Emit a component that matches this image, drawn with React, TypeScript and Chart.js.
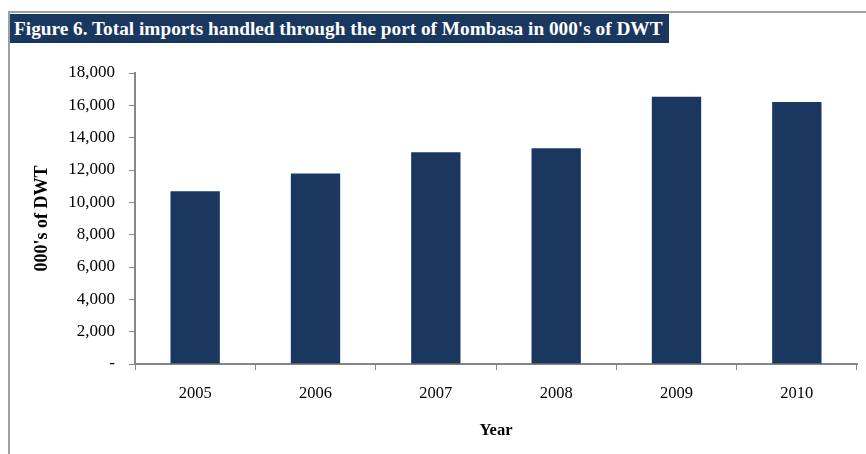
import React, { useEffect, useRef } from "react";
import { Chart, registerables } from "chart.js";

Chart.register(...registerables);

const TITLE = "Figure 6. Total imports handled through the port of Mombasa in 000's of DWT";
const years: string[] = ["2005", "2006", "2007", "2008", "2009", "2010"];
const imports: number[] = [10680, 11790, 13100, 13340, 16530, 16200];
const yTickValues: number[] = [0, 2000, 4000, 6000, 8000, 10000, 12000, 14000, 16000, 18000];
const yAxisTitle = "000's of DWT";
const xAxisTitle = "Year";

const NAVY = "#1a3760";
const AXIS = "#868686";
const FONT = "'Liberation Serif', 'DejaVu Serif', serif";

export default function App() {
  const ref = useRef<HTMLCanvasElement | null>(null);

  useEffect(() => {
    const prevMargin = document.body.style.margin;
    document.body.style.margin = "0";
    const canvas = ref.current;
    if (!canvas) return;
    const chart = new Chart(canvas, {
      type: "bar",
      data: {
        labels: years,
        datasets: [
          {
            label: "Imports",
            data: imports,
            backgroundColor: NAVY,
            borderWidth: 0,
            barPercentage: 0.41,
            categoryPercentage: 1,
          },
        ],
      },
      options: {
        animation: false,
        responsive: false,
        maintainAspectRatio: false,
        layout: { padding: { left: 0, right: 9, top: 73, bottom: 0 } },
        plugins: {
          legend: { display: false },
          tooltip: { enabled: false },
          title: { display: false },
        },
        scales: {
          x: {
            afterFit: (s: any) => {
              s.height = 90;
            },
            grid: {
              drawOnChartArea: false,
              drawTicks: true,
              tickLength: 6,
              color: AXIS,
              lineWidth: 1,
              offset: true,
            },
            border: { color: AXIS, width: 2 },
            ticks: {
              color: "#000",
              padding: 14,
              font: { family: FONT, size: 16.5 },
            },
            title: {
              display: true,
              text: xAxisTitle,
              color: "#000",
              font: { family: FONT, size: 16.5, weight: "bold" },
              padding: { top: 0, bottom: 13 },
            },
          },
          y: {
            min: 0,
            max: 18000,
            afterFit: (s: any) => {
              s.width = 135;
            },
            afterBuildTicks: (s: any) => {
              s.ticks = yTickValues.map((v) => ({ value: v }));
            },
            grid: {
              drawOnChartArea: false,
              drawTicks: true,
              tickLength: 6,
              color: AXIS,
            },
            border: { color: AXIS, width: 2 },
            ticks: {
              color: "#000",
              padding: 14,
              font: { family: FONT, size: 17 },
              callback: (v: any) => (Number(v) === 0 ? "-" : Number(v).toLocaleString("en-US")),
            },
            title: {
              display: true,
              text: yAxisTitle,
              color: "#000",
              font: { family: FONT, size: 18, weight: "bold" },
              padding: { top: 32, bottom: 0 },
            },
          },
        },
      },
    });
    return () => {
      chart.destroy();
      document.body.style.margin = prevMargin;
    };
  }, []);

  return (
    <div style={{ position: "absolute", left: 0, top: 0, width: 866, height: 454, background: "#fff" }}>
      <canvas ref={ref} width={866} height={454} style={{ position: "absolute", left: 0, top: 0, width: 866, height: 454 }} />
      <div
        style={{
          position: "absolute",
          left: 8,
          top: 11,
          width: 858,
          height: 443,
          borderTop: "2px solid #a0a0a0",
          borderLeft: "2px solid #a0a0a0",
          boxSizing: "border-box",
          pointerEvents: "none",
        }}
      />
      <div
        style={{
          position: "absolute",
          left: 10,
          top: 14,
          height: 29,
          padding: "0 6px 0 4px",
          background: NAVY,
          color: "#fff",
          fontFamily: FONT,
          fontWeight: "bold",
          fontSize: 19.3,
          lineHeight: "29px",
          whiteSpace: "nowrap",
        }}
      >
        {TITLE}
      </div>
    </div>
  );
}
